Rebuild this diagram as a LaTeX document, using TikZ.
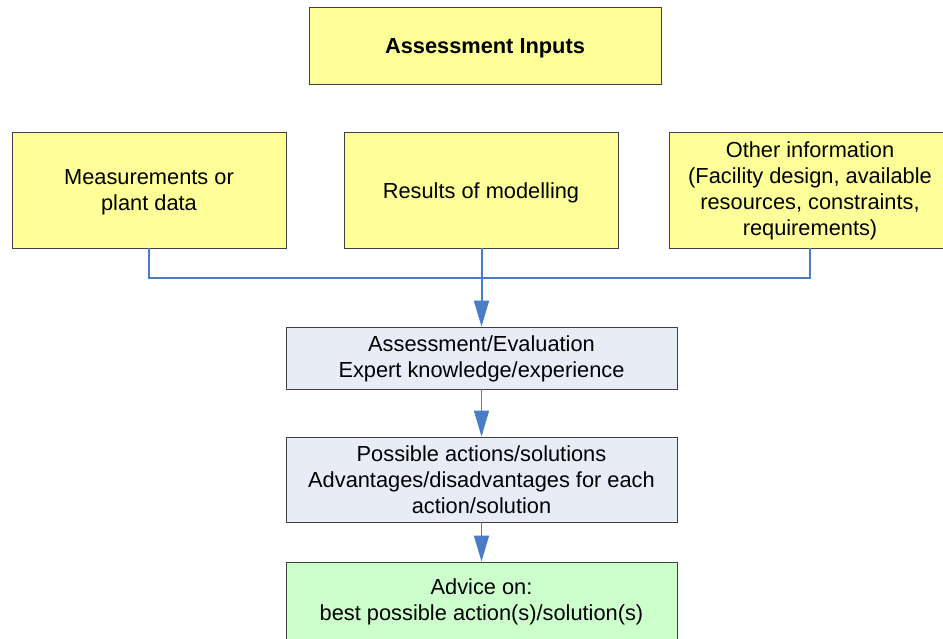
\documentclass[tikz,border=0pt]{standalone}
\usepackage{fontspec}
\setmainfont{Liberation Sans}
\usetikzlibrary{arrows.meta}
\definecolor{boxyellow}{HTML}{FFFF99}
\definecolor{boxblue}{HTML}{E7ECF7}
\definecolor{boxgreen}{HTML}{CCFFCC}
\definecolor{edgegray}{HTML}{404040}
\definecolor{linkblue}{HTML}{4A7DC6}
\begin{document}
\begin{tikzpicture}[x=1pt,y=-1pt,
  basebox/.style={draw=edgegray,line width=0.9pt,inner sep=0pt},
  ybox/.style={basebox,fill=boxyellow},
  bbox/.style={basebox,fill=boxblue},
  gbox/.style={basebox,fill=boxgreen},
  label text/.style={inner sep=0pt,align=center,font=\fontsize{21.8}{26}\selectfont},
  link/.style={draw=linkblue,line width=1.6pt},
  arr/.style={link,-{Triangle[length=26pt,width=15pt]}}
]
\useasboundingbox (0,0) rectangle (943,639);
\fill[white] (0,0) rectangle (943,639);
% boxes
\node[ybox,minimum width=352pt,minimum height=77pt] (inputs) at (485,45.5) {};
\node[ybox,minimum width=274pt,minimum height=116pt] (meas) at (149,190) {};
\node[ybox,minimum width=274pt,minimum height=116pt] (model) at (481,190) {};
\node[ybox,minimum width=282pt,minimum height=116pt] (other) at (810,190) {};
\node[bbox,minimum width=391pt,minimum height=62pt] (eval) at (481.5,358) {};
\node[bbox,minimum width=391pt,minimum height=85pt] (poss) at (481.5,479.5) {};
\node[gbox,minimum width=391pt,minimum height=78pt] (advice) at (481.5,601) {};
% texts
\node[label text,font=\fontsize{21.8}{26}\selectfont\bfseries] (inputsT) at ([yshift=-3pt]inputs.center) {Assessment Inputs};
\node[label text] (measT) at ([yshift=-2.5pt]meas.center) {Measurements or\\plant data};
\node[label text] (modelT) at ([yshift=-3pt]model.center) {Results of modelling};
\node[label text] (otherT) at ([yshift=-1pt]other.center) {Other information\\(Facility design, available\\resources, constraints,\\requirements)};
\node[label text] (evalT) at ([yshift=-1pt]eval.center) {Assessment/Evaluation\\Expert knowledge/experience};
\node[label text] (possT) at (poss.center) {Possible actions/solutions\\Advantages/disadvantages for each\\action/solution};
\node[label text] (adviceT) at ([yshift=-1pt]advice.center) {Advice on:\\best possible action(s)/solution(s)};
% connectors
\coordinate (j1) at (149,278);
\coordinate (j2) at (810,278);
\draw[link,line width=1.3pt] (meas.south -| j1) -- (j1) -- (j2) -- (other.south -| j2);
\draw[arr,line width=2pt] (model.south -| eval.north) -- (eval.north);
\draw[arr] (eval.south) -- (poss.north);
\draw[arr] (poss.south) -- (advice.north);
\end{tikzpicture}
\end{document}
